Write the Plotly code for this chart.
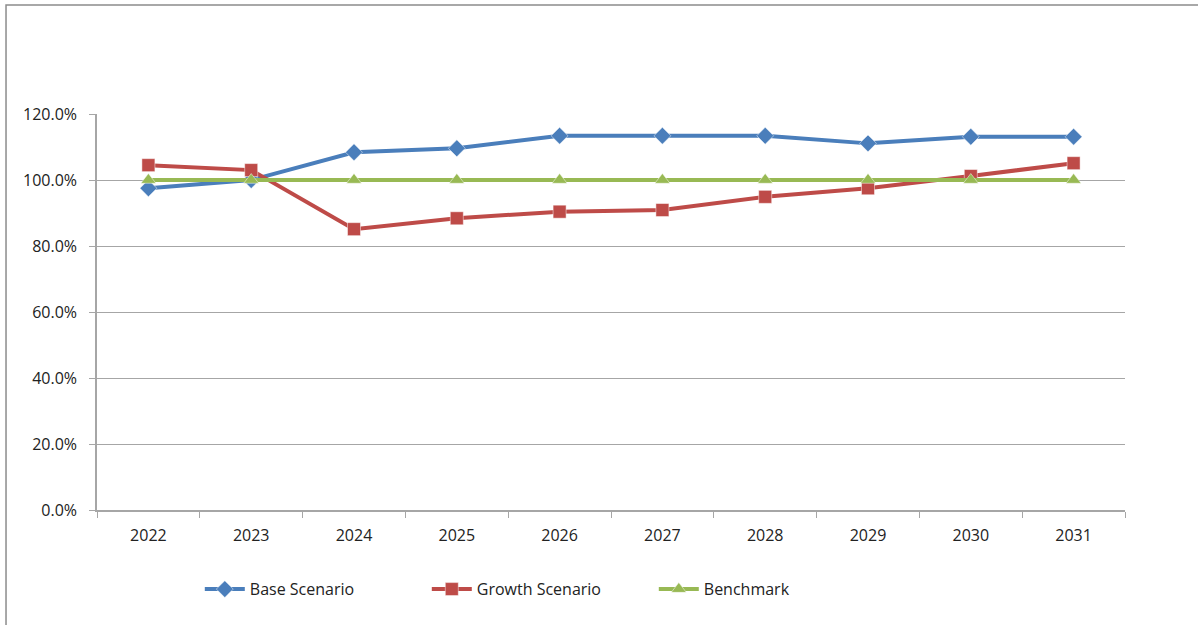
import plotly.graph_objects as go

years = ["2022", "2023", "2024", "2025", "2026", "2027", "2028", "2029", "2030", "2031"]
base_scenario = [97.5, 100.0, 108.4, 109.6, 113.4, 113.4, 113.4, 111.1, 113.1, 113.1]
growth_scenario = [104.5, 103.0, 85.1, 88.4, 90.4, 90.9, 94.9, 97.5, 101.2, 105.1]
benchmark = [100.0] * 10

FONT = "Open Sans, Noto Sans, sans-serif"

fig = go.Figure()

series = [
    ("Base Scenario", base_scenario, "#4A7EBB", "diamond", 13),
    ("Growth Scenario", growth_scenario, "#BE4B48", "square", 13),
    ("Benchmark", benchmark, "#98B954", "triangle-up", 13),
]
for name, vals, color, symbol, size in series:
    fig.add_trace(go.Scatter(
        x=years, y=vals, name=name, mode="lines+markers",
        line=dict(color=color, width=4),
        marker=dict(symbol=symbol, size=size, color=color,
                    line=dict(color="rgba(255,255,255,0.6)", width=0.8)),
    ))

# outer chart frame
fig.add_shape(type="rect", xref="paper", yref="paper",
              x0=-0.0885, x1=1.2, y0=-0.5, y1=1.275,
              line=dict(color="#8C8C8C", width=1.5), fillcolor="rgba(0,0,0,0)",
              layer="below")

fig.update_layout(
    width=1198, height=625,
    margin=dict(l=97, r=73, t=114, b=115),
    paper_bgcolor="white", plot_bgcolor="white",
    font=dict(family=FONT, size=16, color="#222222"),
    showlegend=True,
    legend=dict(orientation="h", x=0.1, xanchor="left", y=-0.2, yanchor="middle",
                font=dict(size=16, color="#222222"), itemwidth=40,
                entrywidth=172, entrywidthmode="pixels",
                tracegroupgap=0),
    xaxis=dict(
        type="category", showgrid=False,
        showline=True, linecolor="#A6A6A6", linewidth=1.5,
        ticks="outside", tickson="boundaries", ticklen=6, tickcolor="#A6A6A6",
        tickfont=dict(size=16, color="#222222"),
        ticklabelstandoff=10,
        range=[-0.5, 9.5],
    ),
    yaxis=dict(
        range=[0, 120], dtick=20, tickformat=".1f", ticksuffix="%",
        showgrid=True, gridcolor="#A6A6A6", gridwidth=1,
        showline=True, linecolor="#A6A6A6", linewidth=1.5,
        ticks="outside", ticklen=6, tickcolor="#A6A6A6",
        tickfont=dict(size=16, color="#222222"),
        ticklabelstandoff=9,
        zeroline=False,
    ),
)

fig.write_html("out.html")
